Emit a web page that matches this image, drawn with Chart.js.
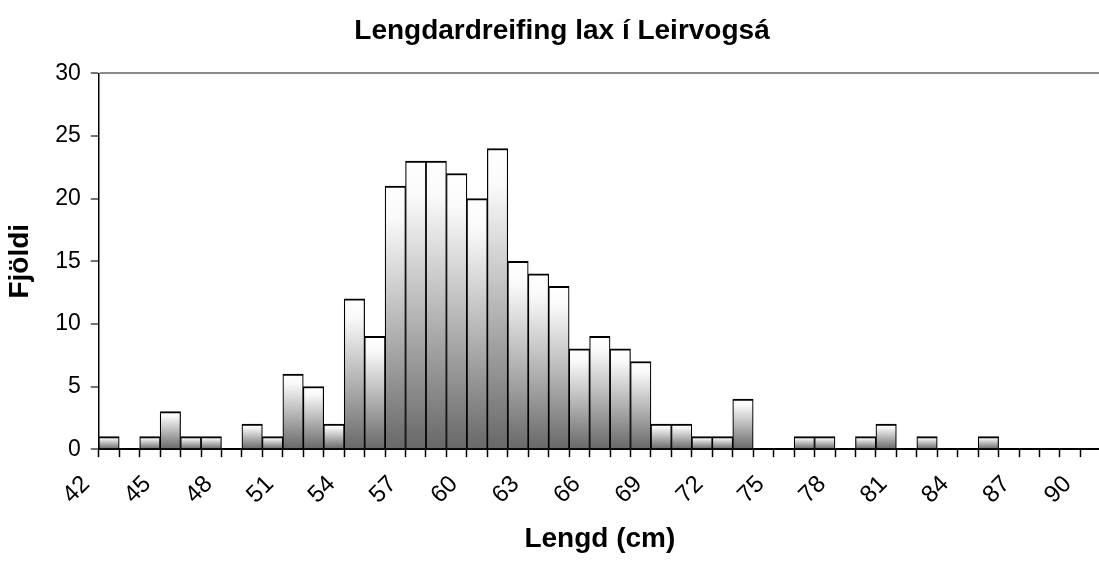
<!DOCTYPE html>
<html>
<head>
<meta charset="utf-8">
<script src="https://cdn.jsdelivr.net/npm/chart.js@4.4.1/dist/chart.umd.min.js"></script>
<style>
html,body{margin:0;padding:0;background:#fff;overflow:hidden;}
#wrap{width:1099px;height:563px;overflow:hidden;position:relative;}
canvas{display:block;}
</style>
</head>
<body>
<div id="wrap"><canvas id="c" width="1124" height="563"></canvas></div>
<script>
// Length classes (cm)
const categories = ['42','43','44','45','46','47','48','49','50','51','52','53','54','55','56','57','58','59','60','61','62','63','64','65','66','67','68','69','70','71','72','73','74','75','76','77','78','79','80','81','82','83','84','85','86','87','88','89','90'];
// Number of fish per length class
const counts = [1,0,1,3,1,1,0,2,1,6,5,2,12,9,21,23,23,22,20,24,15,14,13,8,9,8,7,2,2,1,1,4,0,0,1,1,0,1,2,0,1,0,0,1,0,0,0,0,0];
// Labels shown on the x axis
const tickLabels = ['42','45','48','51','54','57','60','63','66','69','72','75','78','81','84','87','90'];
const yMin = 0, yMax = 30, yStep = 5;
const chartTitle = 'Lengdardreifing lax í Leirvogsá';
const xTitle = 'Lengd (cm)';
const yTitle = 'Fjöldi';

const FONT = "'Liberation Sans', Arial, sans-serif";

function barGradient(ctx) {
  const chart = ctx.chart;
  const y = chart.scales && chart.scales.y;
  if (!y || ctx.type !== 'data') return '#bbbbbb';
  const top = y.getPixelForValue(ctx.raw);
  const base = y.getPixelForValue(0);
  if (!(base - top > 0.5)) return '#ffffff';
  const g = chart.ctx.createLinearGradient(0, top, 0, base);
  g.addColorStop(0, '#ffffff');
  g.addColorStop(0.12, '#fafafa');
  g.addColorStop(1, '#686868');
  return g;
}

new Chart(document.getElementById('c'), {
  type: 'bar',
  data: {
    labels: categories,
    datasets: [{
      data: counts,
      backgroundColor: barGradient,
      borderColor: '#000000',
      borderWidth: {top: 2, left: 1.2, right: 1.2, bottom: 0},
      borderSkipped: 'start',
      barPercentage: 1.0,
      categoryPercentage: 1.0
    }]
  },
  options: {
    responsive: false,
    animation: false,
    devicePixelRatio: 1,
    layout: {padding: {left: 0, right: 0, top: 0, bottom: 0}},
    plugins: {
      legend: {display: false},
      tooltip: {enabled: false},
      title: {
        display: true,
        text: chartTitle,
        color: '#000',
        font: {family: FONT, size: 28, weight: 'bold'},
        padding: {top: 14, bottom: 25.7}
      }
    },
    scales: {
      x: {
        type: 'category',
        offset: true,
        grid: {
          display: true,
          offset: true,
          drawOnChartArea: false,
          drawTicks: true,
          tickLength: 8,
          tickColor: '#000',
          tickWidth: 1.5
        },
        border: {display: true, color: '#000', width: 2},
        ticks: {
          autoSkip: false,
          maxRotation: 45,
          minRotation: 45,
          padding: 13,
          labelOffset: -23,
          color: '#000',
          font: {family: FONT, size: 24},
          callback: function (v, i) {
            const l = this.getLabelForValue(v);
            return tickLabels.includes(l) ? l : '';
          }
        },
        title: {
          display: true,
          text: xTitle,
          color: '#000',
          font: {family: FONT, size: 28, weight: 'bold'},
          padding: {top: 0, bottom: 7}
        }
      },
      y: {
        min: yMin,
        max: yMax,
        grid: {
          display: true,
          drawOnChartArea: true,
          drawTicks: true,
          tickLength: 8,
          color: (c) => (c.tick && c.tick.value === yMax) ? '#8c8c8c' : 'rgba(0,0,0,0)',
          lineWidth: 2,
          tickColor: '#444',
          tickWidth: 1.5
        },
        border: {display: true, color: '#000', width: 1.5},
        ticks: {
          stepSize: yStep,
          padding: 10,
          color: '#000',
          font: {family: FONT, size: 23}
        },
        title: {
          display: true,
          text: yTitle,
          color: '#000',
          font: {family: FONT, size: 28, weight: 'bold'},
          padding: {top: 3.8, bottom: 7.8}
        }
      }
    }
  }
});
</script>
</body>
</html>
